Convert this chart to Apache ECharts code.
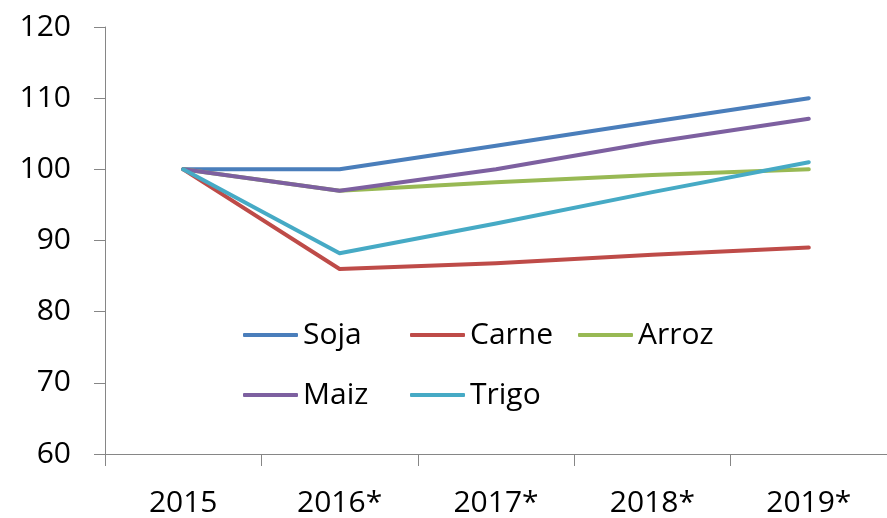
<!DOCTYPE html>
<html>
<head>
<meta charset="utf-8">
<script src="https://cdn.jsdelivr.net/npm/echarts@6/dist/echarts.min.js"></script>
<style>html,body{margin:0;padding:0;background:#fff}#c{width:887px;height:518px}</style>
</head>
<body>
<div id="c"></div>
<script>
const categories = ['2015', '2016*', '2017*', '2018*', '2019*'];
const soja  = [100, 100, 103.3, 106.7, 110];
const carne = [100, 86, 86.8, 88, 89];
const arroz = [100, 97, 98.2, 99.2, 100];
const maiz  = [100, 97, 100, 103.8, 107.1];
const trigo = [100, 88.2, 92.4, 96.8, 101];
const yTicks = { min: 60, max: 120, interval: 10 };

const names = ['Soja', 'Carne', 'Arroz', 'Maiz', 'Trigo'];
const values = [soja, carne, arroz, maiz, trigo];
const colors = ['#4A7EBB', '#BE4B48', '#98B954', '#7D60A0', '#46AAC5'];
const legendPos = [[243, 320], [410, 320], [578, 320], [243, 380], [410, 380]];
const FONT = 'Open Sans';

const chart = echarts.init(document.getElementById('c'));
chart.setOption({
  animation: false,
  textStyle: { fontFamily: FONT },
  grid: { left: 105, top: 27, width: 786, height: 428 },
  legend: names.map((n, i) => ({
    data: [n], left: legendPos[i][0], top: legendPos[i][1], padding: 0,
    itemWidth: 55, itemHeight: 4, icon: 'roundRect', selectedMode: false,
    textStyle: { fontFamily: FONT, fontSize: 30, color: '#000' }
  })),
  xAxis: {
    type: 'category', data: categories, boundaryGap: true,
    axisLine: { lineStyle: { color: '#868686', width: 1 } },
    axisTick: { show: true, length: 12, lineStyle: { color: '#868686' } },
    axisLabel: { color: '#000', fontSize: 30, fontFamily: FONT, margin: 34 },
    splitLine: { show: false }
  },
  yAxis: {
    type: 'value', min: yTicks.min, max: yTicks.max, interval: yTicks.interval,
    axisLine: { show: true, lineStyle: { color: '#868686', width: 1 } },
    axisTick: { show: true, length: 11, lineStyle: { color: '#868686' } },
    axisLabel: { color: '#000', fontSize: 30, fontFamily: FONT, margin: 34 },
    splitLine: { show: false }
  },
  series: names.map((n, i) => ({
    name: n, type: 'line', data: values[i], symbol: 'none',
    color: colors[i],
    lineStyle: { width: 4, color: colors[i], cap: 'round', join: 'round' }
  }))
});
</script>
</body>
</html>
